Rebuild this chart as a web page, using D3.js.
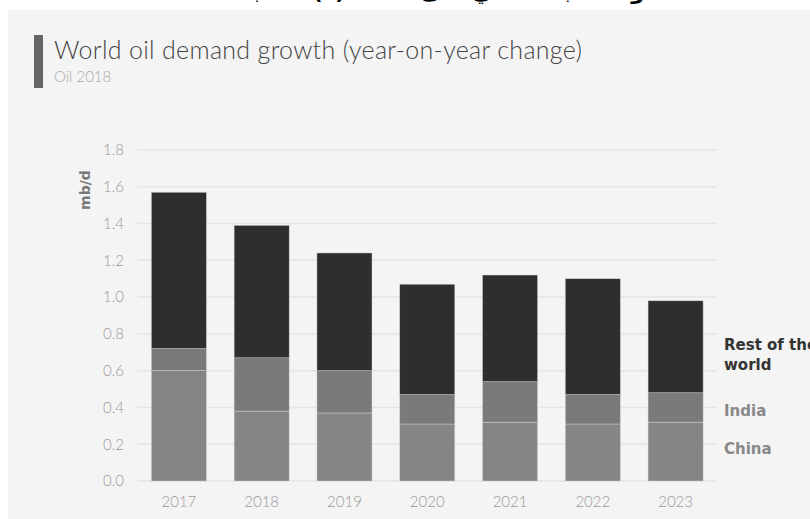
<!DOCTYPE html>
<html><head><meta charset="utf-8">
<script src="https://cdn.jsdelivr.net/npm/d3@7"></script>
<style>
html,body{margin:0;padding:0;background:#fff;overflow:hidden;}
svg{display:block;}
</style></head>
<body>
<svg id="c" width="810" height="519"></svg>
<script>
const years = ["2017","2018","2019","2020","2021","2022","2023"];
const china = [0.60,0.38,0.37,0.31,0.32,0.31,0.32];
const india = [0.12,0.29,0.23,0.16,0.22,0.16,0.16];
const rest  = [0.85,0.72,0.64,0.60,0.58,0.63,0.50];
const yTicks = [0,0.2,0.4,0.6,0.8,1.0,1.2,1.4,1.6,1.8];
const seriesNames = ["China","India","Rest of the world"];
const colors = ["#858585","#7a7a7a","#2e2e2e"];

const svg = d3.select("#c");
// header Arabic text (cropped at top)
svg.append("text").attr("x",410).attr("y",-1).attr("text-anchor","middle")
  .attr("font-family","DejaVu Sans").attr("font-weight","bold").attr("font-size",21)
  .attr("fill","#000")
  .text("نمو الطلب العالمي على النفط (٪) حسب المنطقة");
// panel
svg.append("rect").attr("x",8).attr("y",10).attr("width",810).attr("height",520).attr("fill","#f4f4f4");
// title
svg.append("rect").attr("x",34).attr("y",35).attr("width",9).attr("height",53).attr("fill","#666");
svg.append("text").attr("x",54).attr("y",59).attr("font-family","Lato").attr("font-weight",300)
  .attr("font-size",25).attr("fill","#444")
  .attr("textLength",528).attr("lengthAdjust","spacing")
  .text("World oil demand growth (year-on-year change)");
svg.append("text").attr("x",54).attr("y",82).attr("font-family","Lato").attr("font-weight",300)
  .attr("font-size",15).attr("fill","#aaa").text("Oil 2018");

const x = d3.scaleBand().domain(years).range([137.5,717]).paddingInner(0.335).paddingOuter(0.1675);
const y = d3.scaleLinear().domain([0,1.8]).range([481,150]);

// grid
const g = svg.append("g");
g.selectAll("line.grid").data(yTicks).join("line").attr("class","grid")
  .attr("x1",137.5).attr("x2",717).attr("y1",d=>y(d)).attr("y2",d=>y(d))
  .attr("stroke","#e4e4e4").attr("stroke-width",1.5);

// y axis labels
const yAxis = d3.axisLeft(y).tickValues(yTicks).tickFormat(d3.format(".1f")).tickSize(0).tickPadding(0);
const ya = svg.append("g").attr("transform","translate(124,0)").call(yAxis);
ya.select(".domain").remove();
ya.selectAll("text").attr("font-family","Lato").attr("font-weight",300).attr("font-size",15).attr("fill","#999");

svg.append("text").attr("transform","translate(90,190) rotate(-90)").attr("text-anchor","middle")
  .attr("font-family","DejaVu Sans").attr("font-weight","bold").attr("font-size",14).attr("fill","#777")
  .text("mb/d");

// stacked bars
const rows = years.map((yr,i)=>({year:yr, "China":china[i], "India":india[i], "Rest of the world":rest[i]}));
const stack = d3.stack().keys(seriesNames)(rows);
svg.append("g").selectAll("g").data(stack).join("g").attr("fill",(d,i)=>colors[i])
  .selectAll("rect").data(d=>d).join("rect")
  .attr("x",d=>x(d.data.year)).attr("width",x.bandwidth())
  .attr("y",d=>y(d[1])).attr("height",d=>y(d[0])-y(d[1]))
  .attr("stroke","#d8d8d8").attr("stroke-width",0.6).attr("stroke-opacity",0.7);

// x axis labels
const xAxis = d3.axisBottom(x).tickSize(0).tickPadding(0);
const xa = svg.append("g").attr("transform","translate(0,496)").call(xAxis);
xa.select(".domain").remove();
xa.selectAll("text").attr("font-family","Lato").attr("font-weight",300).attr("font-size",15).attr("fill","#999");

// legend labels
const leg = svg.append("g").attr("font-family","DejaVu Sans").attr("font-weight","bold").attr("font-size",15);
leg.append("text").attr("x",724).attr("y",350).attr("fill","#333").text("Rest of the");
leg.append("text").attr("x",724).attr("y",370).attr("fill","#333").text("world");
leg.append("text").attr("x",724).attr("y",416).attr("fill","#888").text("India");
leg.append("text").attr("x",724).attr("y",454).attr("fill","#888").text("China");
</script>
</body></html>
